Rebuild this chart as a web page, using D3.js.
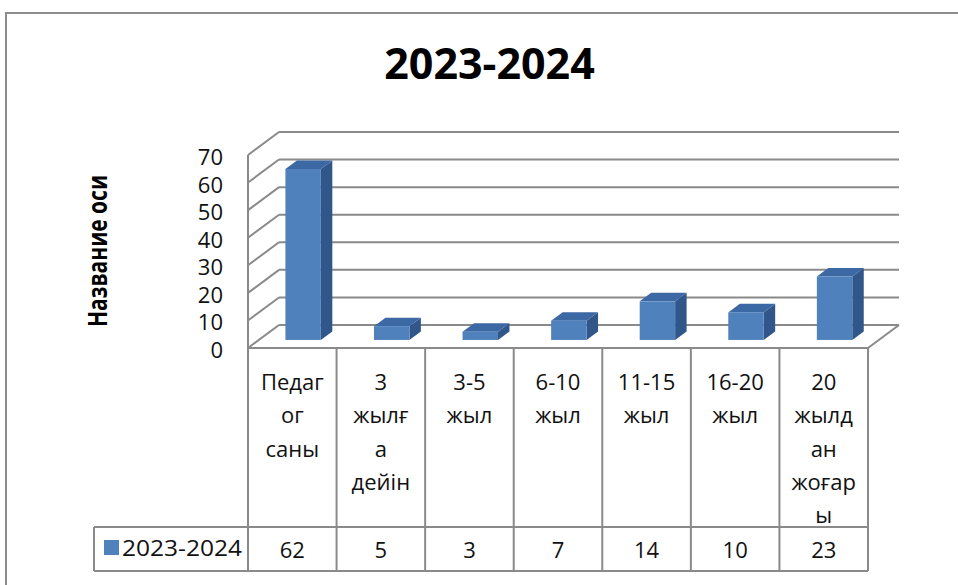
<!DOCTYPE html>
<html>
<head>
<meta charset="utf-8">
<script src="https://cdn.jsdelivr.net/npm/d3@7"></script>
<style>
  html, body { margin: 0; padding: 0; background: #fff; }
  svg { display: block; }
  text { font-family: "Open Sans", "Noto Sans", sans-serif; }
</style>
</head>
<body>
<svg id="chart" width="958" height="585"></svg>
<script>
// ---- data ----
const title = "2023-2024";
const seriesName = "2023-2024";
const yAxisTitle = "Название оси";
const categories = ["Педагог саны", "3 жылға дейін", "3-5 жыл", "6-10 жыл", "11-15 жыл", "16-20 жыл", "20 жылдан жоғары"];
const categoryLines = [
  ["Педаг", "ог", "саны"],
  ["3", "жылғ", "а", "дейін"],
  ["3-5", "жыл"],
  ["6-10", "жыл"],
  ["11-15", "жыл"],
  ["16-20", "жыл"],
  ["20", "жылд", "ан", "жоғар", "ы"]
];
const values = [62, 5, 3, 7, 14, 10, 23];
const yTicks = [0, 10, 20, 30, 40, 50, 60, 70];

// ---- layout ----
const svg = d3.select("#chart");
const W = 958, H = 585;
const left = 248, right = 868;        // front plane x-range
const depthX = 31, depthY = -23;      // 3D offset (front -> back wall)
const barZ0 = 0.35, barZ1 = 0.72;     // bar depth range (fraction)
const gridColor = "#8a8a8a";
const lineColor = "#8a8a8a";

const x = d3.scaleBand().domain(categories).range([left, right]).paddingInner(0).paddingOuter(0);
const y = d3.scaleLinear().domain([0, 70]).range([348, 155]);
const barW = x.bandwidth() * 0.40;

// outer border
svg.append("rect").attr("x", 6).attr("y", 13).attr("width", 980).attr("height", 600)
  .attr("fill", "none").attr("stroke", "#8c8c8c").attr("stroke-width", 2);

// title
svg.append("text").attr("x", 489.5).attr("y", 79).attr("text-anchor", "middle")
  .attr("font-size", 43).attr("font-weight", 700).attr("fill", "#000").text(title);

// axis title
svg.append("text").attr("transform", "translate(107,251) rotate(-90)")
  .attr("text-anchor", "middle").attr("font-size", 27).attr("font-weight", 700)
  .attr("textLength", 152).attr("lengthAdjust", "spacingAndGlyphs")
  .attr("fill", "#000").text(yAxisTitle);

// walls & gridlines
const g = svg.append("g").attr("fill", "none").attr("stroke", gridColor).attr("stroke-width", 2);
yTicks.forEach(t => {
  const yf = y(t);
  // left side wall diagonal
  g.append("line").attr("x1", left).attr("y1", yf).attr("x2", left + depthX).attr("y2", yf + depthY);
  // back wall horizontal
  g.append("line").attr("x1", left + depthX).attr("y1", yf + depthY).attr("x2", right + depthX).attr("y2", yf + depthY);
});
// left front vertical edge
g.append("line").attr("x1", left).attr("y1", y(70)).attr("x2", left).attr("y2", y(0));
// floor right edge
g.append("line").attr("x1", right).attr("y1", y(0)).attr("x2", right + depthX).attr("y2", y(0) + depthY);

// tick labels
svg.append("g").selectAll("text").data(yTicks).join("text")
  .attr("x", 223).attr("y", d => y(d) + 10).attr("text-anchor", "end")
  .attr("font-size", 22).attr("fill", "#111").text(d => d);

// bars
const bx = barZ0 * depthX, by = barZ0 * depthY;
const dx = (barZ1 - barZ0) * depthX, dy = (barZ1 - barZ0) * depthY;
const bars = svg.append("g");
categories.forEach((c, i) => {
  const v = values[i];
  const xl = x(c) + x.bandwidth() / 2 - barW / 2 + bx;
  const xr = xl + barW;
  const yt = y(v) + by;
  const yb = y(0) + by;
  // side
  bars.append("path").attr("d", `M${xr},${yt}L${xr + dx},${yt + dy}L${xr + dx},${yb + dy}L${xr},${yb}Z`)
    .attr("fill", "#31578a");
  // top
  bars.append("path").attr("d", `M${xl},${yt}L${xr},${yt}L${xr + dx},${yt + dy}L${xl + dx},${yt + dy}Z`)
    .attr("fill", "#3c69a3");
  // front
  bars.append("rect").attr("x", xl).attr("y", yt).attr("width", barW).attr("height", yb - yt)
    .attr("fill", "#4f81bd");
});

// data table
const tTop = 348, tMid = 527, tBot = 571, legLeft = 94;
const tg = svg.append("g").attr("stroke", lineColor).attr("stroke-width", 2);
tg.append("line").attr("x1", left).attr("y1", tTop).attr("x2", right).attr("y2", tTop);
tg.append("line").attr("x1", legLeft).attr("y1", tMid).attr("x2", right).attr("y2", tMid);
tg.append("line").attr("x1", legLeft).attr("y1", tBot).attr("x2", right).attr("y2", tBot);
tg.append("line").attr("x1", legLeft).attr("y1", tMid).attr("x2", legLeft).attr("y2", tBot);
const bounds = categories.map(c => x(c)).concat([right]);
bounds.forEach(b => tg.append("line").attr("x1", b).attr("y1", tTop).attr("x2", b).attr("y2", tBot));

// category labels
categories.forEach((c, i) => {
  const cx = x(c) + x.bandwidth() / 2;
  categoryLines[i].forEach((ln, j) => {
    svg.append("text").attr("x", cx).attr("y", 390 + j * 33.3).attr("text-anchor", "middle")
      .attr("font-size", 22).attr("fill", "#111").text(ln);
  });
  svg.append("text").attr("x", cx).attr("y", 558).attr("text-anchor", "middle")
    .attr("font-size", 22).attr("fill", "#111").text(values[i]);
});

// legend key
svg.append("rect").attr("x", 104).attr("y", 540).attr("width", 15).attr("height", 15).attr("fill", "#4f81bd");
svg.append("text").attr("x", 122).attr("y", 556).attr("font-size", 22)
  .attr("textLength", 120).attr("lengthAdjust", "spacingAndGlyphs")
  .attr("fill", "#111").text(seriesName);
</script>
</body>
</html>
